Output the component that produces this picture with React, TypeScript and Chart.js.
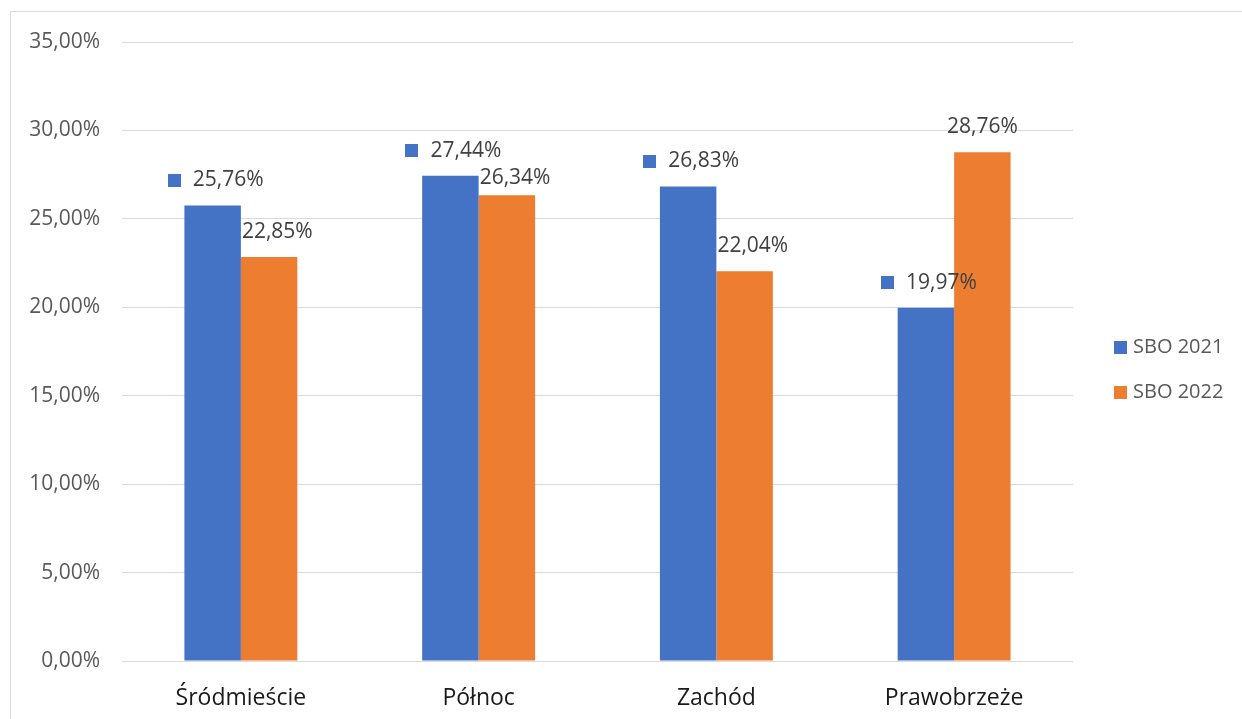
import React, { useEffect, useRef } from "react";
import { Chart, registerables } from "chart.js";

Chart.register(...registerables);

const categories = ["Śródmieście", "Północ", "Zachód", "Prawobrzeże"];
const seriesNames = ["SBO 2021", "SBO 2022"];
const sbo2021 = [25.76, 27.44, 26.83, 19.97];
const sbo2022 = [22.85, 26.34, 22.04, 28.76];
const yTicksMax = 35;
const yTicksStep = 5;

const BLUE = "#4472C4";
const ORANGE = "#ED7D31";
const FONT = "'Open Sans', 'Liberation Sans', sans-serif";

const fmt = (v: number) => v.toFixed(2).replace(".", ",") + "%";

const labelsPlugin = {
  id: "excelLabels",
  afterDatasetsDraw(chart: any, _args: any, opts: any) {
    const ctx = chart.ctx;
    ctx.save();
    ctx.font = `21px ${FONT}`;
    ctx.fillStyle = "#404040";
    ctx.textBaseline = "middle";
    const LH = 24;
    const placed: { x1: number; x2: number; y1: number; y2: number }[] = [];
    chart.data.datasets.forEach((ds: any, di: number) => {
      const meta = chart.getDatasetMeta(di);
      const aligns = (opts.align && opts.align[di]) || [];
      meta.data.forEach((bar: any, i: number) => {
        const v = ds.data[i];
        const text = fmt(v);
        const tw = ctx.measureText(text).width;
        let cy = bar.y - 25;
        const left = bar.x - bar.width / 2;
        const showKey = opts.keys && opts.keys[di];
        if (showKey) {
          const key = 13, gap = 12;
          const total = key + gap + tw;
          const sx = bar.x + 3 - total / 2;
          ctx.fillStyle = ds.backgroundColor;
          ctx.fillRect(Math.round(sx), Math.round(cy - 6.5), key, key);
          ctx.fillStyle = "#404040";
          ctx.textAlign = "left";
          ctx.fillText(text, sx + key + gap, cy);
          placed.push({ x1: sx, x2: sx + total, y1: cy - LH / 2, y2: cy + LH / 2 });
        } else {
          const a = aligns[i] || "center";
          const x1 = a === "left" ? left + 1 : bar.x - tw / 2;
          const x2 = x1 + tw;
          for (const p of placed) {
            if (x1 < p.x2 && x2 > p.x1 && cy - LH / 2 < p.y2 && cy + LH / 2 > p.y1) {
              cy = p.y2 + LH / 2 + 3;
            }
          }
          ctx.fillStyle = "#404040";
          ctx.textAlign = "left";
          ctx.fillText(text, x1, cy);
        }
      });
    });
    ctx.restore();
  },
};

const legendPlugin = {
  id: "excelLegend",
  afterDraw(chart: any, _args: any, opts: any) {
    const ctx = chart.ctx;
    ctx.save();
    ctx.font = `20px ${FONT}`;
    ctx.textBaseline = "middle";
    ctx.textAlign = "left";
    chart.data.datasets.forEach((ds: any, di: number) => {
      const cy = opts.y + di * opts.spacing;
      ctx.fillStyle = ds.backgroundColor;
      ctx.fillRect(opts.x, Math.round(cy - 6.5), 13, 13);
      ctx.fillStyle = "#595959";
      ctx.fillText(ds.label, opts.x + 19, cy);
    });
    ctx.restore();
  },
};

export default function App() {
  const ref = useRef<HTMLCanvasElement | null>(null);

  useEffect(() => {
    document.documentElement.style.overflow = "hidden";
    document.body.style.overflow = "hidden";
    if (!ref.current) return;
    const chart = new Chart(ref.current, {
      type: "bar",
      data: {
        labels: categories,
        datasets: [
          { label: seriesNames[0], data: sbo2021, backgroundColor: BLUE, borderWidth: 0 },
          { label: seriesNames[1], data: sbo2022, backgroundColor: ORANGE, borderWidth: 0 },
        ],
      },
      plugins: [labelsPlugin, legendPlugin],
      options: {
        responsive: false,
        animation: false,
        layout: { padding: { left: 0, right: 178, top: 30, bottom: 0 } },
        datasets: {
          bar: { categoryPercentage: 0.475, barPercentage: 1 },
        },
        plugins: {
          legend: { display: false },
          tooltip: { enabled: false },
          excelLabels: { keys: [true, false], align: [[], ["left", "left", "left", "center"]] },
          excelLegend: { x: 1103, y: 335, spacing: 45.5 },
        } as any,
        scales: {
          x: {
            grid: { display: false },
            border: { display: false },
            ticks: { color: "#1a1a1a", font: { family: FONT, size: 23 }, padding: 16 },
            afterFit: (s: any) => { s.height = 67; s.paddingTop = 0; s.paddingBottom = 0; },
          },
          y: {
            min: 0,
            max: yTicksMax,
            grid: { color: "#d9d9d9", lineWidth: 1, drawTicks: false },
            border: { display: false },
            ticks: {
              stepSize: yTicksStep,
              color: "#595959",
              font: { family: FONT, size: 21 },
              padding: 22,
              callback: (v: any) => fmt(Number(v)),
            },
            afterFit: (s: any) => { s.width = 111; s.paddingTop = 0; s.paddingBottom = 0; },
          },
        },
      },
    });
    return () => chart.destroy();
  }, []);

  return (
    <div
      style={{
        position: "fixed",
        left: 10,
        top: 11,
        width: 1240,
        height: 720,
        border: "1px solid #d9d9d9",
        background: "#fff",
      }}
    >
      <canvas ref={ref} width={1240} height={716} style={{ display: "block", width: 1240, height: 716 }} />
    </div>
  );
}
